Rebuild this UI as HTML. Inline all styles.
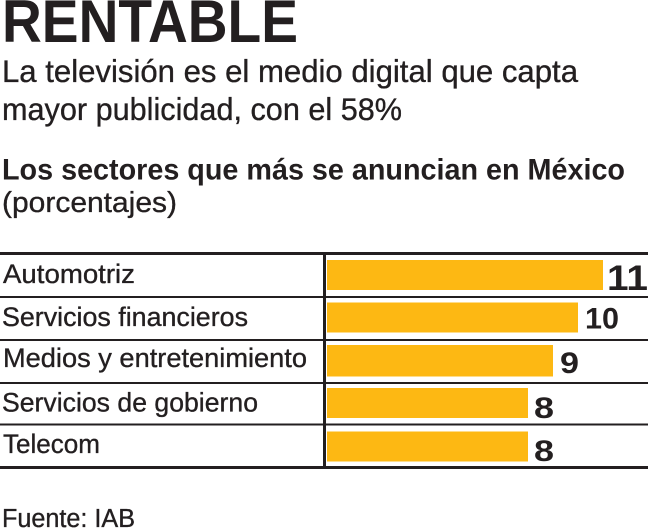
<!DOCTYPE html>
<html>
<head>
<meta charset="utf-8">
<style>
  html,body{margin:0;padding:0;background:#fff;}
  svg{display:block;}
  text{font-family:"Liberation Sans",sans-serif;fill:#231f20;}
  .b{font-weight:bold;}
  .r{stroke:#231f20;stroke-width:0.35;}
</style>
</head>
<body>
<svg width="650" height="529" viewBox="0 0 650 529" xmlns="http://www.w3.org/2000/svg">
  <rect width="650" height="529" fill="#fff"/>
  <!-- Title -->
  <text class="b" x="2" y="42" font-size="60" textLength="296" lengthAdjust="spacingAndGlyphs">RENTABLE</text>
  <text class="r" x="2" y="82" font-size="31.5" textLength="576" lengthAdjust="spacingAndGlyphs">La televisión es el medio digital que capta</text>
  <text class="r" x="2" y="120" font-size="31.5" textLength="400" lengthAdjust="spacingAndGlyphs">mayor publicidad, con el 58%</text>
  <text class="b" x="2" y="179.5" font-size="30" textLength="623" lengthAdjust="spacingAndGlyphs">Los sectores que más se anuncian en México</text>
  <text class="r" x="2" y="212" font-size="29" textLength="175" lengthAdjust="spacingAndGlyphs">(porcentajes)</text>

  <!-- Bars -->
  <g fill="#fdb813">
    <rect x="327" y="260" width="276" height="30"/>
    <rect x="327" y="302.5" width="251" height="30"/>
    <rect x="327" y="345" width="226" height="31.5"/>
    <rect x="327" y="388" width="201" height="30"/>
    <rect x="327" y="431.5" width="201" height="30"/>
  </g>

  <!-- Lines -->
  <g fill="#231f20">
    <rect x="0" y="252" width="648" height="3"/>
    <rect x="0" y="296" width="648" height="2"/>
    <rect x="0" y="339" width="648" height="2"/>
    <rect x="0" y="382" width="648" height="2"/>
    <rect x="0" y="423.5" width="648" height="2"/>
    <rect x="0" y="466" width="648" height="3"/>
    <rect x="323" y="252" width="3" height="217"/>
  </g>

  <!-- Labels -->
  <text class="r" x="3" y="283" font-size="26.5" textLength="132" lengthAdjust="spacingAndGlyphs">Automotriz</text>
  <text class="r" x="2" y="326" font-size="26.5" textLength="246" lengthAdjust="spacingAndGlyphs">Servicios financieros</text>
  <text class="r" x="3" y="367" font-size="26.5" textLength="304" lengthAdjust="spacingAndGlyphs">Medios y entretenimiento</text>
  <text class="r" x="2" y="411.5" font-size="26.5" textLength="256" lengthAdjust="spacingAndGlyphs">Servicios de gobierno</text>
  <text class="r" x="3" y="453" font-size="26.5" textLength="97" lengthAdjust="spacingAndGlyphs">Telecom</text>

  <!-- Values -->
  <text class="b" x="607" y="290" font-size="35" textLength="41" lengthAdjust="spacingAndGlyphs">11</text>
  <text class="b" x="585" y="328.5" font-size="29.5" textLength="34" lengthAdjust="spacingAndGlyphs">10</text>
  <text class="b" x="560" y="373" font-size="29.5" textLength="19" lengthAdjust="spacingAndGlyphs">9</text>
  <text class="b" x="534" y="418" font-size="29.5" textLength="20" lengthAdjust="spacingAndGlyphs">8</text>
  <text class="b" x="534" y="461" font-size="29.5" textLength="20" lengthAdjust="spacingAndGlyphs">8</text>

  <!-- Source -->
  <text class="r" x="2" y="527" font-size="25.5" textLength="133" lengthAdjust="spacingAndGlyphs">Fuente: IAB</text>
</svg>
</body>
</html>
